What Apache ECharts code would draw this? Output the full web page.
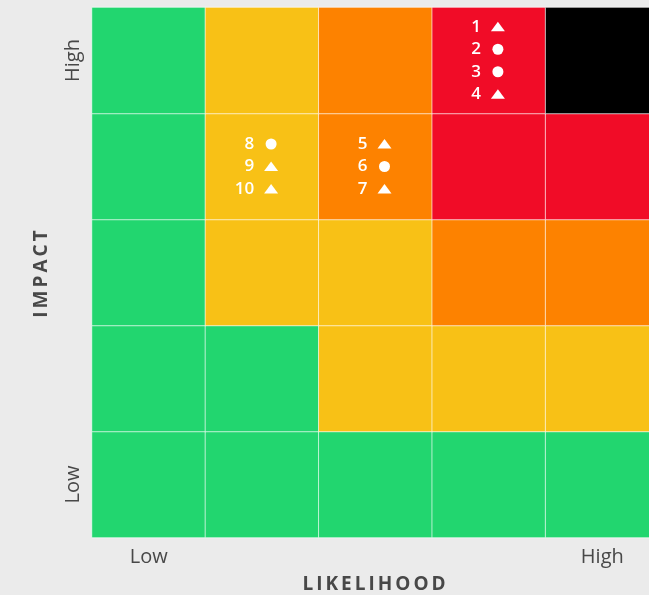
<!DOCTYPE html>
<html>
<head>
<meta charset="utf-8">
<script src="https://cdn.jsdelivr.net/npm/echarts@6/dist/echarts.min.js"></script>
<style>
html,body{margin:0;padding:0;background:#ebebeb;}
#chart{width:649px;height:595px;}
</style>
</head>
<body>
<div id="chart"></div>
<script>
// ---- data ----
var likelihoodLabels = ['Low', '', '', '', 'High'];
var impactLabels = ['Low', '', '', '', 'High'];
// risk level per cell, rows = impact (Low..High), columns = likelihood (Low..High)
var riskLevels = [
  [0, 0, 0, 0, 0],
  [0, 0, 1, 1, 1],
  [0, 1, 1, 2, 2],
  [0, 1, 2, 3, 3],
  [0, 1, 2, 3, 4]
];
var levelColors = ['#22d66f', '#f8c116', '#fd8200', '#f10c27', '#000000'];
var riskIds = [1, 2, 3, 4, 5, 6, 7, 8, 9, 10];
var riskLikelihood = [3, 3, 3, 3, 2, 2, 2, 1, 1, 1];
var riskImpact = [4, 4, 4, 4, 3, 3, 3, 3, 3, 3];
var riskShape = ['triangle', 'circle', 'circle', 'triangle', 'triangle', 'circle', 'triangle', 'circle', 'triangle', 'triangle'];

// letter spacing for axis names (canvas)
var spaced = {'IMPACT': true, 'LIKELIHOOD': true};
var origFill = CanvasRenderingContext2D.prototype.fillText;
CanvasRenderingContext2D.prototype.fillText = function (t, x, y, w) {
  if (spaced[t]) {
    var f = this.font;
    this.letterSpacing = '3px';
    this.font = f;
    origFill.call(this, t, x, y);
    this.letterSpacing = '0px';
    this.font = f;
    return;
  }
  return w === undefined ? origFill.call(this, t, x, y) : origFill.call(this, t, x, y, w);
};

var heatData = [];
riskLevels.forEach(function (row, yi) {
  row.forEach(function (lvl, xi) { heatData.push([xi, yi, lvl]); });
});

// stack risks within each cell
var cellCount = {}, cellIdx = [];
riskIds.forEach(function (id, i) {
  var k = riskLikelihood[i] + '_' + riskImpact[i];
  cellIdx.push(cellCount[k] || 0);
  cellCount[k] = (cellCount[k] || 0) + 1;
});
var riskData = riskIds.map(function (id, i) {
  var k = riskLikelihood[i] + '_' + riskImpact[i];
  return [riskLikelihood[i], riskImpact[i], id, riskShape[i] === 'circle' ? 1 : 0, cellIdx[i], cellCount[k]];
});

var chart = echarts.init(document.getElementById('chart'), null, {renderer: 'canvas'});
var labelFont = '"Open Sans", sans-serif';
chart.setOption({
  backgroundColor: '#ebebeb',
  animation: false,
  grid: {left: 92, top: 7.5, width: 567, height: 530, outerBoundsMode: 'none', containLabel: false},
  xAxis: {
    type: 'category', data: likelihoodLabels,
    axisLine: {show: false}, axisTick: {show: false}, splitLine: {show: false},
    axisLabel: {fontSize: 20, color: '#484848', fontFamily: labelFont, margin: 10, interval: 0},
    name: 'LIKELIHOOD', nameLocation: 'middle', nameGap: 38,
    nameTextStyle: {fontSize: 19, fontWeight: 'bold', color: '#484848', fontFamily: labelFont}
  },
  yAxis: {
    type: 'category', data: impactLabels,
    axisLine: {show: false}, axisTick: {show: false}, splitLine: {show: false},
    axisLabel: {fontSize: 20, color: '#484848', fontFamily: labelFont, rotate: 90, margin: 9, interval: 0},
    name: 'IMPACT', nameLocation: 'middle', nameGap: 41,
    nameTextStyle: {fontSize: 19, fontWeight: 'bold', color: '#484848', fontFamily: labelFont}
  },
  visualMap: {
    show: false, type: 'piecewise', dimension: 2, seriesIndex: 0,
    pieces: levelColors.map(function (c, i) { return {value: i, color: c}; })
  },
  series: [{
    type: 'heatmap', data: heatData,
    itemStyle: {borderColor: 'rgba(255,255,255,0.65)', borderWidth: 1}
  }, {
    type: 'custom', data: riskData,
    renderItem: function (params, api) {
      var p = api.coord([api.value(0), api.value(1)]);
      var idx = api.value(4), n = api.value(5);
      var cy = p[1] + (idx - (n - 1) / 2) * 22.5;
      var sx = p[0] + 9;
      var shape = api.value(3) === 1
        ? {type: 'circle', shape: {cx: sx, cy: cy, r: 5.5}, style: {fill: '#fff'}}
        : {type: 'polygon', shape: {points: [[sx - 7, cy + 4.5], [sx + 7, cy + 4.5], [sx, cy - 5]]}, style: {fill: '#fff'}};
      return {
        type: 'group',
        children: [{
          type: 'text',
          style: {
            text: String(api.value(2)), x: sx - 17, y: cy,
            align: 'right', verticalAlign: 'middle',
            fill: '#fff', font: '600 17px "Open Sans", sans-serif'
          }
        }, shape]
      };
    }
  }]
});
</script>
</body>
</html>
